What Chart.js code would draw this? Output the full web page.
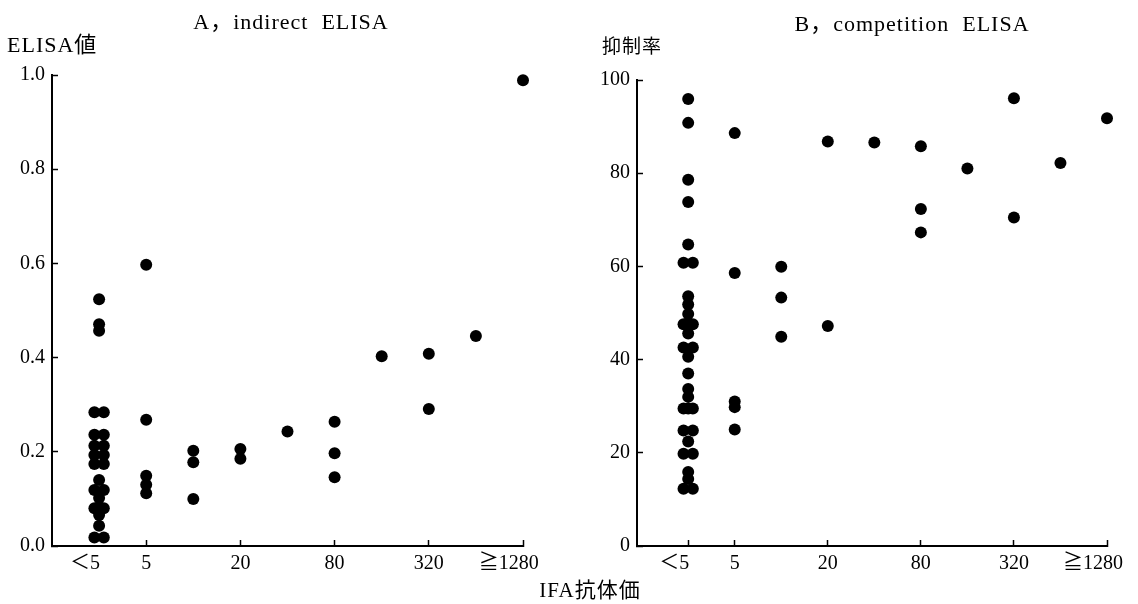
<!DOCTYPE html>
<html lang="ja">
<head>
<meta charset="utf-8">
<title>IFA抗体価とELISA</title>
<script src="https://cdn.jsdelivr.net/npm/chart.js@4/dist/chart.umd.min.js"></script>
<style>
  body { margin: 0; background: #fff; }
  #wrap { position: relative; width: 1138px; height: 604px; }
  #chartA { position: absolute; left: 0; top: 0; }
  #chartB { position: absolute; left: 570px; top: 0; }
  #xcap {
    position: absolute; left: 490px; top: 573px; width: 200px;
    text-align: center; line-height: 24px; letter-spacing: 1px;
    font: 21px "Liberation Serif", "Noto Sans CJK JP", serif;
  }
</style>
</head>
<body>
<div id="wrap">
  <canvas id="chartA" width="570" height="604"></canvas>
  <canvas id="chartB" width="568" height="604"></canvas>
  <div id="xcap">IFA抗体価</div>
</div>
<script>
// titer steps: 0 = <5, 1 = 5, 2 = 10, 3 = 20 ... 9 = >=1280
const titerTicks = [0, 1, 3, 5, 7, 9];
const titerLabels = ["＜5", "5", "20", "80", "320", "≧1280"];

// A, indirect ELISA
// side: -1 / 0 / 1 = dot pushed left / centre / right where dots overlap
const aTiter = [0,0,0,0,0,0,0,0,0,0,0,0,0,0,0,0,0,0,0,0,0,0,0,0,
                1,1,1,1,1, 2,2,2, 3,3, 4, 5,5,5, 6, 7,7, 8, 9];
const aSide  = [0,0,0,-1,1,-1,1,-1,1,-1,1,-1,1,0,-1,1,0,-1,0,1,0,0,-1,1,
                0,0,0,0,0, 0,0,0, 0,0, 0, 0,0,0, 0, 0,0, 0, 0];
const aValue = [0.524,0.471,0.457,0.284,0.284,0.236,0.236,0.213,0.213,0.193,0.193,
                0.174,0.174,0.140,0.119,0.119,0.102,0.080,0.080,0.080,0.066,0.043,0.018,0.018,
                0.597,0.268,0.149,0.130,0.112, 0.202,0.178,0.100, 0.206,0.185, 0.243,
                0.264,0.197,0.146, 0.403, 0.408,0.291, 0.446, 0.989];
const aTicks = [0, 0.2, 0.4, 0.6, 0.8, 1.0];

// B, competition ELISA (抑制率 %)
const bTiter = [0,0,0,0,0,0,0,0,0,0,0,0,0,0,0,0,0,0,0,0,0,0,0,0,0,0,0,0,0,0,0,0,
                1,1,1,1,1, 2,2,2, 3,3, 4, 5,5,5, 6, 7,7, 8, 9];
const bSide  = [0,0,0,0,0,-1,1,0,0,0,-1,0,1,0,-1,1,0,0,0,0,-1,0,1,-1,1,0,-1,1,0,0,-1,1,
                0,0,0,0,0, 0,0,0, 0,0, 0, 0,0,0, 0, 0,0, 0, 0];
const bValue = [95.9,90.8,78.6,73.8,64.7,60.8,60.8,53.6,51.8,49.8,47.6,47.6,47.6,45.6,
                42.6,42.6,40.6,37.0,33.7,32.0,29.5,29.5,29.5,24.8,24.8,22.4,19.8,19.8,
                15.9,14.4,12.3,12.3,
                88.6,58.6,31.0,29.8,25.0, 59.9,53.3,44.9, 86.8,47.2, 86.6,
                85.8,72.3,67.3, 81.0, 96.1,70.5, 82.2, 91.8];
const bTicks = [0, 20, 40, 60, 80, 100];

const FONT = '"Liberation Serif", "Noto Sans CJK JP", serif';
Chart.defaults.font.family = FONT;
Chart.defaults.font.size = 20;
Chart.defaults.color = "#000";

const SIDE_STEP = 0.1;
const LABEL_NUDGE = { 0: -0.3, 9: -0.3 };

function toPoints(titer, side, value) {
  return value.map((v, i) => ({ x: titer[i] + side[i] * SIDE_STEP, y: v }));
}

// title and y caption are horizontal, placed like the printed figure
const panelText = {
  id: "panelText",
  afterDraw(chart, args, o) {
    const ctx = chart.ctx;
    ctx.save();
    ctx.fillStyle = "#000";
    ctx.textBaseline = "middle";
    ctx.letterSpacing = "1px";
    ctx.font = o.titleFont;
    ctx.textAlign = "center";
    ctx.fillText(o.title, o.titleX, o.titleY);
    ctx.font = o.captionFont;
    ctx.textAlign = "left";
    ctx.fillText(o.caption, o.captionX, o.captionY);
    ctx.restore();
  }
};

function makePanel(id, points, cfg) {
  const labelAt = new Map();
  const xTicks = [];
  titerTicks.forEach((v, k) => {
    const n = LABEL_NUDGE[v] || 0;
    if (n) {
      xTicks.push(v + n);
      labelAt.set(v + n, titerLabels[k]);
      if (cfg.markAt.includes(v)) xTicks.push(v);
    } else {
      xTicks.push(v);
      labelAt.set(v, titerLabels[k]);
    }
  });

  return new Chart(id, {
    type: "scatter",
    data: {
      datasets: [{
        data: points,
        backgroundColor: "#000",
        borderWidth: 0,
        pointRadius: 6,
        pointHoverRadius: 6,
        clip: false
      }]
    },
    options: {
      responsive: false,
      animation: false,
      events: [],
      layout: { padding: { top: cfg.top, right: cfg.right, left: 0, bottom: 0 } },
      plugins: {
        legend: { display: false },
        tooltip: { enabled: false },
        panelText: cfg.text
      },
      scales: {
        x: {
          type: "linear",
          min: cfg.xMin,
          max: 9,
          afterBuildTicks: s => { s.ticks = xTicks.map(v => ({ value: v })); },
          afterFit: s => { s.height = 58; },
          border: { display: true, color: "#000", width: 2 },
          grid: {
            drawOnChartArea: false,
            tickLength: -6,
            tickWidth: 1.5,
            tickColor: c => (c.tick && cfg.markAt.includes(c.tick.value)) ? "#000" : "rgba(0,0,0,0)"
          },
          ticks: {
            autoSkip: false,
            maxRotation: 0,
            padding: 12,
            callback: v => labelAt.get(v) || ""
          }
        },
        y: {
          min: 0,
          max: cfg.yTicks[cfg.yTicks.length - 1],
          afterBuildTicks: s => { s.ticks = cfg.yTicks.map(v => ({ value: v })); },
          afterFit: s => { s.width = cfg.left; },
          border: { display: true, color: "#000", width: 2 },
          grid: {
            drawOnChartArea: false,
            tickLength: -6,
            tickWidth: 1.5,
            tickColor: "#000"
          },
          ticks: {
            padding: 13,
            callback: cfg.yFormat
          }
        }
      }
    },
    plugins: [panelText]
  });
}

makePanel("chartA", toPoints(aTiter, aSide, aValue), {
  xMin: -1,
  left: 52, right: 47, top: 75,
  markAt: [1, 3, 5, 7, 9],
  yTicks: aTicks,
  yFormat: v => v.toFixed(1),
  text: {
    title: "A，indirect  ELISA", titleX: 291, titleY: 23, titleFont: "22px " + FONT,
    caption: "ELISA値", captionX: 7, captionY: 46, captionFont: "22px " + FONT
  }
});

makePanel("chartB", toPoints(bTiter, bSide, bValue), {
  xMin: -1.1,
  left: 67, right: 31, top: 80,
  markAt: [0, 1, 3, 5, 7, 9],
  yTicks: bTicks,
  yFormat: v => String(v),
  text: {
    title: "B，competition  ELISA", titleX: 912 - 570, titleY: 25, titleFont: "22px " + FONT,
    caption: "抑制率", captionX: 32, captionY: 48, captionFont: "19px " + FONT
  }
});
</script>
</body>
</html>
